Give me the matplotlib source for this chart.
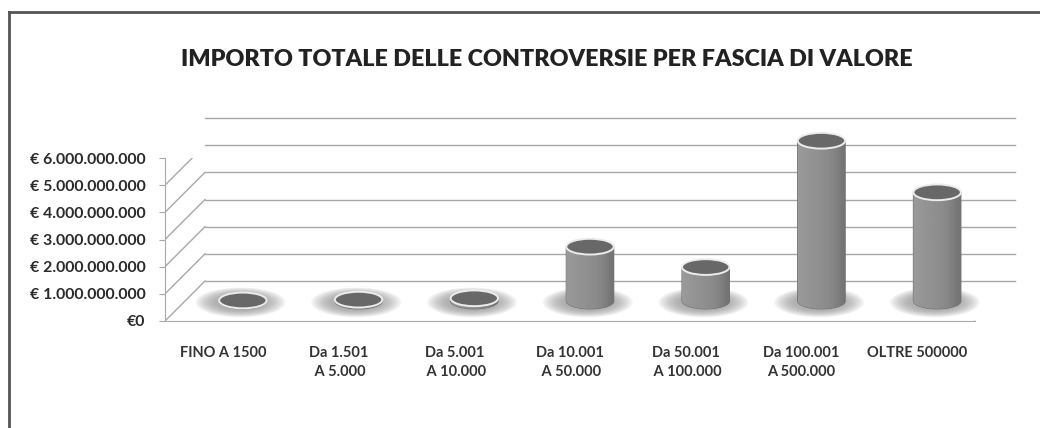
import numpy as np
import matplotlib.pyplot as plt
import matplotlib.transforms as mtransforms
from matplotlib.patches import Ellipse, Polygon
from matplotlib.lines import Line2D

# Dati: importo totale per fascia di valore (euro)
fasce = ['FINO A 1500', 'Da 1.501\n A 5.000', 'Da 5.001\n A 10.000',
         'Da 10.001\n A 50.000', 'Da 50.001\n A 100.000',
         'Da 100.001\nA 500.000', 'OLTRE 500000']
importi = [0.02e9, 0.05e9, 0.10e9, 2.0e9, 1.25e9, 5.9e9, 4.0e9]
livelli = [0, 1e9, 2e9, 3e9, 4e9, 5e9, 6e9]

W, H = 1040, 428
fig = plt.figure(figsize=(W / 100, H / 100), dpi=100)
ax = fig.add_axes([165 / W, (H - 321) / H, 810 / W, 163 / H])
ax.set_xlim(-0.5, len(fasce) - 0.5)
ax.set_ylim(0, 6e9)
ax.patch.set_visible(False)

# profondita' del grafico 3D (pixel)
DX, DY = 40, 40
tr_back = mtransforms.offset_copy(ax.transData, fig=fig, x=DX, y=DY, units='dots')
tr_mid = mtransforms.offset_copy(ax.transData, fig=fig, x=DX / 2, y=DY / 2, units='dots')

grigio = '#a8a8a8'
x0, x1 = ax.get_xlim()

# linee della parete di fondo e della parete sinistra
for v in livelli:
    ax.plot([x0, x1], [v, v], color=grigio, lw=1, transform=tr_back, zorder=1, clip_on=False)
    p_front = ax.transData.transform((x0, v))
    ax.add_line(Line2D([p_front[0], p_front[0] + DX], [p_front[1], p_front[1] + DY],
                       color=grigio, lw=1, transform=mtransforms.IdentityTransform(), zorder=1))

# bordo destro del pavimento
p_r = ax.transData.transform((x1, 0))
ax.add_line(Line2D([p_r[0], p_r[0] + DX], [p_r[1], p_r[1] + DY], color=grigio, lw=1,
                   transform=mtransforms.IdentityTransform(), zorder=1))

# cilindri
w = 0.41
eh = 0.58e9
t = np.linspace(np.pi, 2 * np.pi, 60)
grad = np.array([[0.60, 0.59, 0.58, 0.57, 0.56, 0.55, 0.54, 0.52, 0.49, 0.45]])
for i, v in enumerate(importi):
    # ombra sfumata alla base
    for k in range(14):
        f = 1 - k / 14
        ax.add_patch(Ellipse((i - 0.02, -0.05e9), 0.42 + 0.36 * f, eh * (1.0 + 0.9 * f),
                             transform=tr_mid, facecolor='#8c8c8c', edgecolor='none',
                             alpha=0.07, zorder=2, clip_on=False))
    xs = np.concatenate([i + w / 2 * np.cos(t), [i + w / 2, i - w / 2]])
    ys = np.concatenate([eh / 2 * np.sin(t), [v, v]])
    corpo = Polygon(np.column_stack([xs, ys]), closed=True, transform=tr_mid,
                    facecolor='#8a8a8a', edgecolor='#707070', lw=0.8, zorder=3,
                    clip_on=False)
    ax.add_patch(corpo)
    img = ax.imshow(grad, cmap='gray', vmin=0, vmax=1, aspect='auto',
                    extent=[i - w / 2, i + w / 2, -eh / 2, v], transform=tr_mid,
                    zorder=3.5, interpolation='bicubic')
    img.set_clip_box(fig.bbox)
    img.set_clip_path(corpo)
    ax.add_patch(Ellipse((i, v), w, eh, transform=tr_mid, facecolor='#686868',
                         edgecolor='#ececec', lw=1.4, zorder=4, clip_on=False))
ax.set_xlim(x0, x1)
ax.set_ylim(0, 6e9)

# assi
for s in ['top', 'right']:
    ax.spines[s].set_visible(False)
ax.spines['left'].set_color(grigio)
ax.spines['bottom'].set_color(grigio)
ax.set_yticks(livelli)
ax.set_yticklabels(['€0' if v == 0 else '€ ' + f'{int(v):,}'.replace(',', '.') for v in livelli],
                   fontsize=11.4, fontweight='bold', color='#2a2a2a', fontfamily='Lato')
ax.tick_params(axis='y', length=4, color=grigio, pad=10)
ax.set_xticks(range(len(fasce)))
ax.set_xticklabels(fasce, fontsize=10.5, color='#333333', fontfamily='Lato',
                   fontweight='bold', linespacing=1.5)
ax.tick_params(axis='x', length=0, pad=18)

fig.text(547 / W, 1 - 60 / H, 'IMPORTO TOTALE DELLE CONTROVERSIE PER FASCIA DI VALORE',
         ha='center', va='center', fontsize=16.8, fontweight='heavy', color='#222222',
         fontfamily='Lato')

# cornice
fig.add_artist(Line2D([9 / W, 9 / W], [0, 1 - 12 / H], color='#555555', lw=2))
fig.add_artist(Line2D([9 / W, 1], [1 - 12 / H, 1 - 12 / H], color='#555555', lw=2))

fig.savefig('out.png', dpi=100)
